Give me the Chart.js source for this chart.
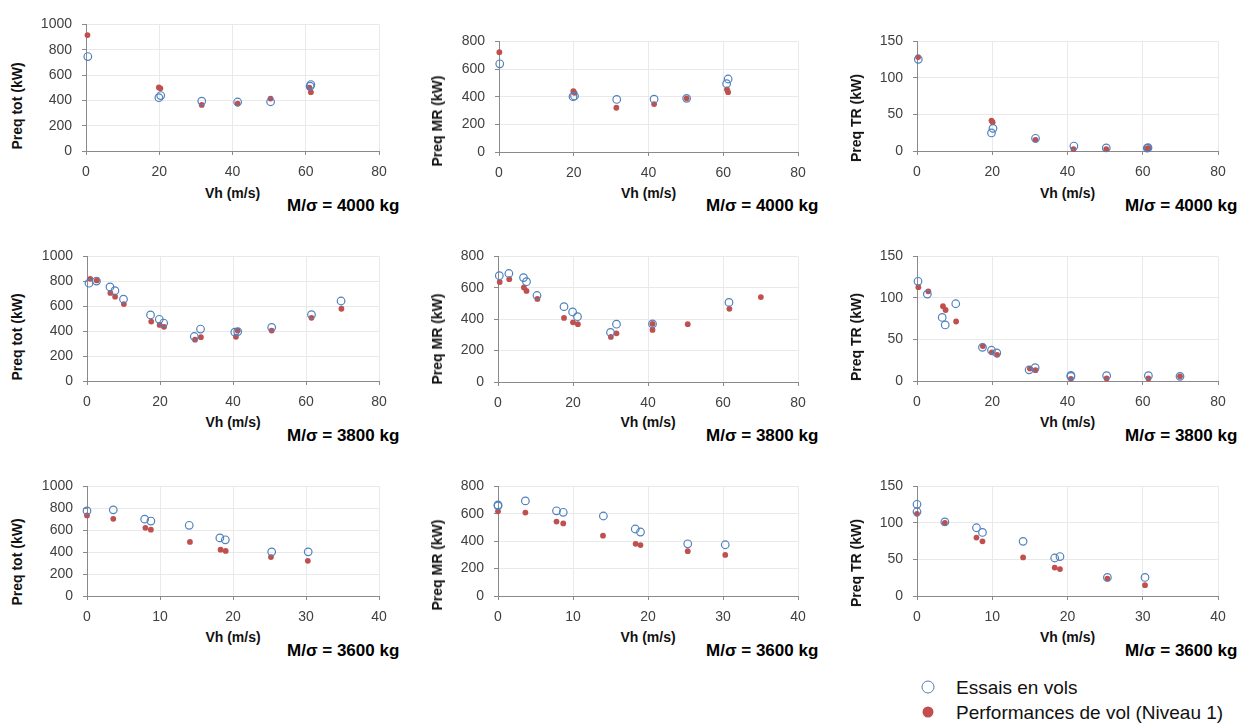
<!DOCTYPE html>
<html><head><meta charset="utf-8">
<script src="https://cdn.jsdelivr.net/npm/chart.js@4.4.1/dist/chart.umd.min.js"></script>
<style>
html,body{margin:0;padding:0;background:#fff;}
body{width:1248px;height:725px;position:relative;overflow:hidden;font-family:"Liberation Sans",Arial,sans-serif;}
canvas{position:absolute;}
.yt{position:absolute;font-weight:bold;font-size:14px;color:#111;white-space:nowrap;transform:translate(-50%,-50%) rotate(-90deg);line-height:1;}
.xt{position:absolute;font-weight:bold;font-size:14px;color:#111;white-space:nowrap;transform:translate(-50%,-50%);line-height:1;}
.ms{position:absolute;font-weight:bold;font-size:17px;color:#000;white-space:nowrap;transform:translateY(-50%);line-height:1;}
.lg{position:absolute;font-size:19px;color:#111;white-space:nowrap;transform:translateY(-50%);line-height:1;}
.dot{position:absolute;border-radius:50%;box-sizing:border-box;transform:translate(-50%,-50%);}
</style>
</head><body>
<script>
// ---------- DATA ----------
const xTicks80 = [0, 20, 40, 60, 80];
const xTicks40 = [0, 10, 20, 30, 40];
const yTicksTot = [0, 200, 400, 600, 800, 1000];
const yTicksMR = [0, 200, 400, 600, 800];
const yTicksTR = [0, 50, 100, 150];

// M/sigma = 4000 kg
const tot4000EssaiX = [0.5, 19.9, 20.4, 31.6, 41.4, 50.4, 61.2, 61.4];
const tot4000EssaiY = [746, 421, 438, 394, 387, 389, 512, 525];
const tot4000PerfX  = [0.4, 19.9, 20.3, 31.6, 41.4, 50.4, 61.0, 61.4];
const tot4000PerfY  = [916, 502, 495, 364, 374, 414, 500, 465];

const mr4000EssaiX = [0.2, 19.8, 20.2, 31.5, 41.5, 50.2, 60.9, 61.3];
const mr4000EssaiY = [638, 400, 405, 380, 382, 388, 494, 528];
const mr4000PerfX  = [0.1, 19.9, 20.2, 31.4, 41.5, 50.2, 61.0, 61.3];
const mr4000PerfY  = [722, 440, 428, 320, 347, 388, 452, 433];

const tr4000EssaiX = [0.35, 19.8, 20.2, 31.5, 41.7, 50.3, 61.2, 61.4];
const tr4000EssaiY = [125.5, 24.7, 31, 17.4, 6.8, 4.2, 4.0, 4.6];
const tr4000PerfX  = [0.3, 19.8, 20.1, 31.5, 41.6, 50.3, 61.2, 61.5];
const tr4000PerfY  = [128.5, 41.7, 39.5, 15.3, 2.5, 2.5, 3.4, 4.0];

// M/sigma = 3800 kg
const tot3800EssaiX = [0.55, 2.6, 6.3, 7.65, 10.0, 17.4, 19.8, 21.0, 29.4, 31.1, 40.5, 41.3, 50.6, 61.5, 69.6];
const tot3800EssaiY = [785, 802, 755, 725, 657, 530, 495, 465, 357, 417, 392, 397, 430, 532, 642];
const tot3800PerfX  = [0.9, 2.7, 6.4, 7.7, 10.1, 17.6, 19.9, 21.1, 29.6, 31.2, 40.8, 41.3, 50.6, 61.5, 69.7];
const tot3800PerfY  = [820, 807, 707, 677, 617, 477, 450, 435, 332, 352, 355, 405, 405, 507, 580];

const mr3800EssaiX = [0.35, 2.9, 6.8, 7.6, 10.4, 17.6, 19.9, 21.2, 30.0, 31.6, 41.2, 61.6];
const mr3800EssaiY = [677, 691, 665, 639, 551, 480, 446, 416, 316, 368, 370, 507];
const mr3800PerfX  = [0.45, 3.0, 6.9, 7.6, 10.5, 17.6, 20.0, 21.3, 30.1, 31.6, 41.2, 41.2, 50.6, 61.7, 70.1];
const mr3800PerfY  = [637, 655, 602, 580, 529, 408, 380, 368, 287, 310, 370, 332, 368, 466, 541];

const tr3800EssaiX = [0.27, 2.75, 6.7, 7.5, 10.3, 17.4, 19.8, 21.2, 29.8, 31.4, 40.9, 40.9, 50.4, 61.5, 69.9];
const tr3800EssaiY = [120, 104.6, 76.5, 67.5, 93, 40.5, 37, 33.8, 13.5, 16, 6.8, 5.5, 6.4, 6.4, 5.6];
const tr3800PerfX  = [0.36, 3.0, 6.9, 7.6, 10.4, 17.5, 19.9, 21.3, 30.0, 31.5, 40.9, 50.4, 61.5, 69.9];
const tr3800PerfY  = [113, 108, 90, 85.5, 71.6, 42, 34.5, 31.5, 15, 13, 2.6, 3, 3, 5.6];

// M/sigma = 3600 kg
const tot3600EssaiX = [0.0, 3.6, 7.9, 8.75, 14.0, 18.2, 18.95, 25.3, 30.3];
const tot3600EssaiY = [777, 786, 701, 684, 645, 530, 513, 403, 403];
const tot3600PerfX  = [0.0, 3.6, 8.0, 8.75, 14.1, 18.3, 19.0, 25.2, 30.25];
const tot3600PerfY  = [735, 704, 622, 605, 493, 423, 411, 355, 321];

const mr3600EssaiX = [0.0, 0.0, 3.65, 7.8, 8.7, 14.05, 18.3, 19.0, 25.3, 30.3];
const mr3600EssaiY = [665, 658, 694, 622, 611, 584, 489, 467, 381, 374];
const mr3600PerfX  = [0.0, 3.65, 7.8, 8.7, 14.0, 18.35, 19.0, 25.3, 30.3];
const mr3600PerfY  = [618, 609, 543, 530, 440, 381, 372, 327, 300];

const tr3600EssaiX = [0.0, 0.0, 3.7, 7.9, 8.7, 14.1, 18.3, 19.0, 25.3, 30.3];
const tr3600EssaiY = [125.5, 115.3, 101.4, 93.4, 87, 74.8, 52, 54, 25.4, 25.4];
const tr3600PerfX  = [0.0, 3.7, 7.9, 8.7, 14.1, 18.3, 19.0, 25.3, 30.3];
const tr3600PerfY  = [112.4, 100, 80, 74.8, 52.8, 38.9, 36.8, 23.7, 14.8];

const seriesNames = ['Essais en vols', 'Performances de vol (Niveau 1)'];
const yTitles = ['Preq tot (kW)', 'Preq MR (kW)', 'Preq TR (kW)'];
const xTitle = 'Vh (m/s)';
const massLabels = ['M/σ = 4000 kg', 'M/σ = 3800 kg', 'M/σ = 3600 kg'];

// ---------- LAYOUT / STYLE ----------
const BLUE = '#4f81bd', RED = '#c0504d';
const FONT = '"Liberation Sans", Arial, sans-serif';
const YW = 60, XH = 30, PT = 10, PR = 20;

function zip(xs, ys) { return xs.map((x, i) => ({x: x, y: ys[i]})); }

function addDiv(cls, text, x, y) {
  const d = document.createElement('div');
  d.className = cls; d.textContent = text;
  d.style.left = x + 'px'; d.style.top = y + 'px';
  document.body.appendChild(d);
  return d;
}

function panel(rect, xt, yt, ex, ey, px, py, yTitle, yTitlePos, mass, massPos, xTitleY) {
  const [L, T, R, B] = rect;
  const c = document.createElement('canvas');
  const w = R - L + YW + PR, h = B - T + PT + XH;
  c.width = w; c.height = h;
  c.style.left = (L - YW) + 'px'; c.style.top = (T - PT) + 'px';
  c.style.width = w + 'px'; c.style.height = h + 'px';
  document.body.appendChild(c);
  const tickFont = {family: FONT, size: 14};
  const fmt = v => String(v);
  new Chart(c.getContext('2d'), {
    type: 'scatter',
    data: {datasets: [
      {label: seriesNames[0], data: zip(ex, ey), pointRadius: 3.8, pointHoverRadius: 3.8,
       borderWidth: 1.2, pointBorderWidth: 1.2, borderColor: BLUE, pointBorderColor: BLUE,
       backgroundColor: 'rgba(255,255,255,0)', pointBackgroundColor: 'rgba(255,255,255,0)', clip: false},
      {label: seriesNames[1], data: zip(px, py), pointRadius: 2.9, pointHoverRadius: 2.9,
       borderWidth: 0, pointBorderWidth: 0, borderColor: RED, backgroundColor: RED,
       pointBackgroundColor: RED, clip: false}
    ]},
    options: {
      responsive: false, animation: false, devicePixelRatio: 1, events: [],
      layout: {padding: {top: PT, right: PR, left: 0, bottom: 0}},
      plugins: {legend: {display: false}, tooltip: {enabled: false}},
      scales: {
        x: {type: 'linear', min: xt[0], max: xt[xt.length - 1],
            afterBuildTicks: s => { s.ticks = xt.map(v => ({value: v})); },
            ticks: {padding: 9, color: '#404040', font: tickFont, maxRotation: 0, callback: fmt},
            grid: {color: '#e9e9e9', tickColor: '#8a8a8a', tickLength: 4, lineWidth: 1},
            border: {color: '#8a8a8a', width: 1},
            afterFit: s => { s.height = XH; }},
        y: {type: 'linear', min: yt[0], max: yt[yt.length - 1],
            afterBuildTicks: s => { s.ticks = yt.map(v => ({value: v})); },
            ticks: {padding: 10, color: '#404040', font: tickFont, callback: fmt},
            grid: {color: '#e9e9e9', tickColor: '#8a8a8a', tickLength: 4, lineWidth: 1},
            border: {color: '#8a8a8a', width: 1},
            afterFit: s => { s.width = YW; }}
      }
    }
  });
  addDiv('yt', yTitle, yTitlePos[0], yTitlePos[1]);
  addDiv('xt', xTitle, (L + R) / 2, xTitleY);
  addDiv('ms', mass, massPos[0], massPos[1]);
}

// Row 1 : 4000 kg
panel([86, 16, 379, 151], xTicks80, yTicksTot, tot4000EssaiX, tot4000EssaiY, tot4000PerfX, tot4000PerfY, yTitles[0], [17, 106], massLabels[0], [287, 205], 193);
panel([499, 33, 798, 152], xTicks80, yTicksMR, mr4000EssaiX, mr4000EssaiY, mr4000PerfX, mr4000PerfY, yTitles[1], [437, 121], massLabels[0], [706, 205], 193);
panel([917, 33, 1218, 151], xTicks80, yTicksTR, tr4000EssaiX, tr4000EssaiY, tr4000PerfX, tr4000PerfY, yTitles[2], [856, 118], massLabels[0], [1125, 205], 193);
// Row 2 : 3800 kg
panel([87, 248, 379, 381], xTicks80, yTicksTot, tot3800EssaiX, tot3800EssaiY, tot3800PerfX, tot3800PerfY, yTitles[0], [17, 337], massLabels[1], [287, 435], 422);
panel([498, 248, 798, 382], xTicks80, yTicksMR, mr3800EssaiX, mr3800EssaiY, mr3800PerfX, mr3800PerfY, yTitles[1], [437, 339], massLabels[1], [706, 435], 422);
panel([917, 248, 1218, 381], xTicks80, yTicksTR, tr3800EssaiX, tr3800EssaiY, tr3800PerfX, tr3800PerfY, yTitles[2], [856, 337], massLabels[1], [1125, 435], 422);
// Row 3 : 3600 kg
panel([87, 478, 379, 596], xTicks40, yTicksTot, tot3600EssaiX, tot3600EssaiY, tot3600PerfX, tot3600PerfY, yTitles[0], [17, 562], massLabels[2], [287, 650], 637);
panel([498, 478, 798, 596], xTicks40, yTicksMR, mr3600EssaiX, mr3600EssaiY, mr3600PerfX, mr3600PerfY, yTitles[1], [437, 565], massLabels[2], [706, 650], 637);
panel([917, 478, 1218, 596], xTicks40, yTicksTR, tr3600EssaiX, tr3600EssaiY, tr3600PerfX, tr3600PerfY, yTitles[2], [856, 563], massLabels[2], [1125, 650], 637);

// Shared legend
const d1 = document.createElement('div');
d1.className = 'dot';
Object.assign(d1.style, {left: '928px', top: '687px', width: '13px', height: '13px', border: '1.6px solid ' + BLUE, background: 'transparent'});
document.body.appendChild(d1);
const d2 = document.createElement('div');
d2.className = 'dot';
Object.assign(d2.style, {left: '928px', top: '712px', width: '11px', height: '11px', background: RED});
document.body.appendChild(d2);
addDiv('lg', seriesNames[0], 956, 687);
addDiv('lg', seriesNames[1], 956, 712);
</script>
</body></html>
